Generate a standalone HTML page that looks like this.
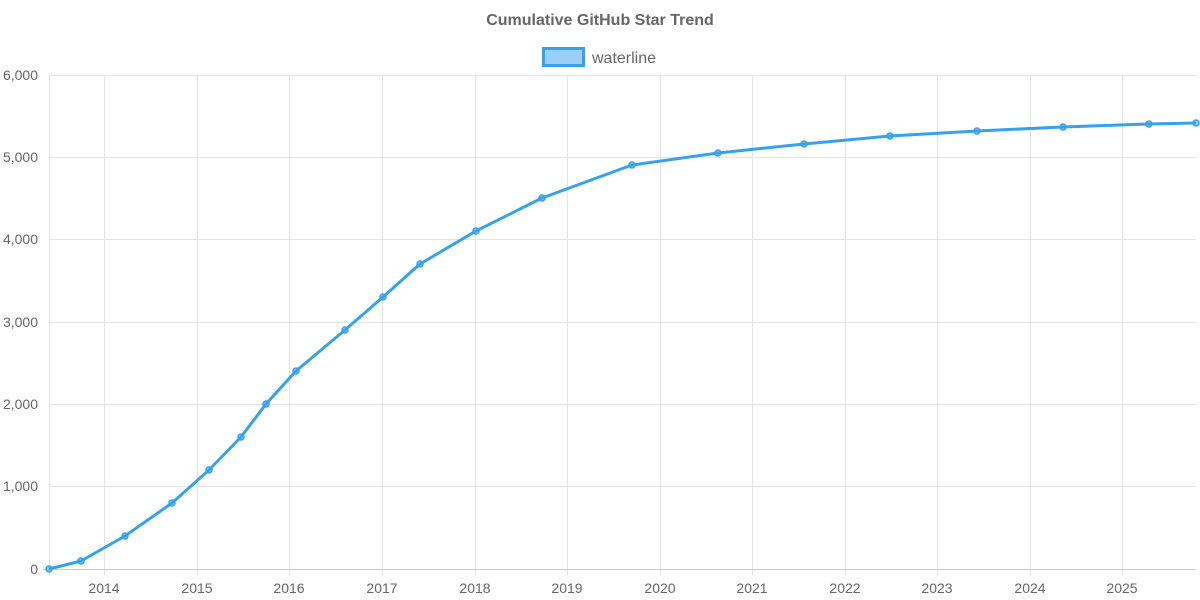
<!DOCTYPE html>
<html><head><meta charset="utf-8"><style>
html,body{margin:0;padding:0;background:#fff;}
svg{display:block;font-family:"Liberation Sans",sans-serif;}
</style></head><body>
<svg width="1200" height="600" viewBox="0 0 1200 600">
<text x="600" y="25" text-anchor="middle" font-size="16" font-weight="bold" fill="#666">Cumulative GitHub Star Trend</text>
<rect x="543.5" y="48.5" width="40" height="17" fill="rgba(54,162,235,0.5)" stroke="#36a2eb" stroke-width="3"/>
<text x="592" y="63" font-size="16" fill="#666">waterline</text>
<g stroke="#e5e5e5" stroke-width="1">
<line x1="49" y1="75.5" x2="1196" y2="75.5"/>
<line x1="49" y1="157.5" x2="1196" y2="157.5"/>
<line x1="49" y1="239.5" x2="1196" y2="239.5"/>
<line x1="49" y1="322.5" x2="1196" y2="322.5"/>
<line x1="49" y1="404.5" x2="1196" y2="404.5"/>
<line x1="49" y1="486.5" x2="1196" y2="486.5"/>
<line x1="49.5" y1="75" x2="49.5" y2="575"/>
<line x1="104.5" y1="75" x2="104.5" y2="575"/>
<line x1="197.5" y1="75" x2="197.5" y2="575"/>
<line x1="289.5" y1="75" x2="289.5" y2="575"/>
<line x1="382.5" y1="75" x2="382.5" y2="575"/>
<line x1="475.5" y1="75" x2="475.5" y2="575"/>
<line x1="567.5" y1="75" x2="567.5" y2="575"/>
<line x1="660.5" y1="75" x2="660.5" y2="575"/>
<line x1="752.5" y1="75" x2="752.5" y2="575"/>
<line x1="845.5" y1="75" x2="845.5" y2="575"/>
<line x1="937.5" y1="75" x2="937.5" y2="575"/>
<line x1="1030.5" y1="75" x2="1030.5" y2="575"/>
<line x1="1122.5" y1="75" x2="1122.5" y2="575"/>
</g>
<line x1="43" y1="569.5" x2="1196" y2="569.5" stroke="#ccc"/>
<g font-size="14" fill="#666" text-anchor="end">
<text x="38" y="80">6,000</text>
<text x="38" y="162">5,000</text>
<text x="38" y="244">4,000</text>
<text x="38" y="327">3,000</text>
<text x="38" y="409">2,000</text>
<text x="38" y="491">1,000</text>
<text x="38" y="574">0</text>
</g>
<g font-size="14" fill="#666" text-anchor="middle">
<text x="104" y="593">2014</text><text x="197" y="593">2015</text><text x="289" y="593">2016</text>
<text x="382" y="593">2017</text><text x="475" y="593">2018</text><text x="567" y="593">2019</text>
<text x="660" y="593">2020</text><text x="752" y="593">2021</text><text x="845" y="593">2022</text>
<text x="937" y="593">2023</text><text x="1030" y="593">2024</text><text x="1122" y="593">2025</text>
</g>
<polyline fill="none" stroke="#36a2eb" stroke-width="3" stroke-linejoin="round" points="49,569 81,561 125,536 172,503 209,470 241,437 266,404 296,371 345,330 383,297 420,264 476,231 542,198 632,165 718,153 804,144 890,136 977,131 1063,127 1149,124 1196,123"/>
<g fill="rgba(54,162,235,0.5)" stroke="#36a2eb" stroke-width="1.5">
<circle cx="49" cy="569" r="3"/><circle cx="81" cy="561" r="3"/><circle cx="125" cy="536" r="3"/><circle cx="172" cy="503" r="3"/><circle cx="209" cy="470" r="3"/><circle cx="241" cy="437" r="3"/><circle cx="266" cy="404" r="3"/><circle cx="296" cy="371" r="3"/><circle cx="345" cy="330" r="3"/><circle cx="383" cy="297" r="3"/><circle cx="420" cy="264" r="3"/><circle cx="476" cy="231" r="3"/><circle cx="542" cy="198" r="3"/><circle cx="632" cy="165" r="3"/><circle cx="718" cy="153" r="3"/><circle cx="804" cy="144" r="3"/><circle cx="890" cy="136" r="3"/><circle cx="977" cy="131" r="3"/><circle cx="1063" cy="127" r="3"/><circle cx="1149" cy="124" r="3"/><circle cx="1196" cy="123" r="3"/>
</g>
</svg>
</body></html>
